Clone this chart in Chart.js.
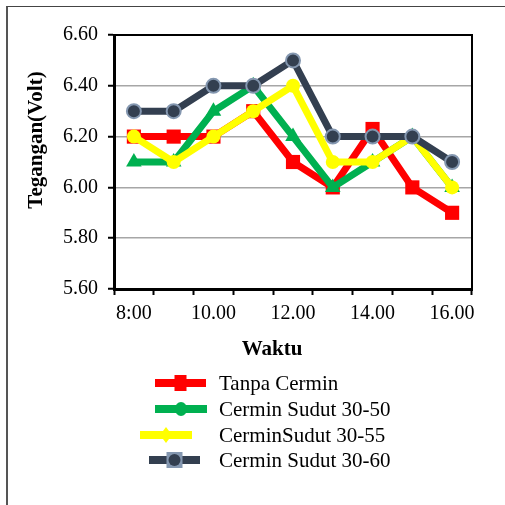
<!DOCTYPE html>
<html>
<head>
<meta charset="utf-8">
<script src="https://cdn.jsdelivr.net/npm/chart.js@4.4.1/dist/chart.umd.min.js"></script>
<style>
  html, body { margin: 0; padding: 0; background: #fff; }
  #wrap { position: relative; width: 505px; height: 505px; overflow: hidden; }
  #frame { position: absolute; left: 6px; top: 6px; width: 520px; height: 520px;
           border-left: 2px solid #555; border-top: 1px solid #444; }
  canvas { position: absolute; left: 0; top: 0; }
</style>
</head>
<body>
<div id="wrap">
  <div id="frame"></div>
  <canvas id="voltChart" width="505" height="505"></canvas>
</div>
<script>
const hours = ['8:00', '9.00', '10.00', '11.00', '12.00', '13.00', '14.00', '15.00', '16.00'];
const tanpaCermin = [6.20, 6.20, 6.20, 6.30, 6.10, 6.00, 6.23, 6.00, 5.90];
const sudut3050 = [6.10, 6.10, 6.30, 6.40, 6.20, 6.00, 6.10, 6.20, 6.00];
const sudut3055 = [6.20, 6.10, 6.20, 6.30, 6.40, 6.10, 6.10, 6.20, 6.00];
const sudut3060 = [6.30, 6.30, 6.40, 6.40, 6.50, 6.20, 6.20, 6.20, 6.10];
const seriesNames = ['Tanpa Cermin', 'Cermin Sudut 30-50', 'CerminSudut 30-55', 'Cermin Sudut 30-60'];
const yTitle = 'Tegangan(Volt)';
const xTitle = 'Waktu';
const yMin = 5.6, yMax = 6.6, yStep = 0.2;

const RED = '#FF0000', GREEN = '#00B050', YELLOW = '#FFFF00', NAVY = '#333F50', SLATE = '#8497B0';
const SERIF = "'Liberation Serif', 'Times New Roman', serif";

// little marker painter used for the hand drawn legend
function marker(ctx, kind, x, y) {
    ctx.save();
    if (kind === 'square') {
        ctx.fillStyle = RED;
        ctx.fillRect(x - 6, y - 8, 12, 16);
    } else if (kind === 'dot') {
        ctx.fillStyle = GREEN;
        ctx.beginPath();
        ctx.ellipse(x, y, 6, 7, 0, 0, Math.PI * 2);
        ctx.fill();
    } else if (kind === 'diamond') {
        ctx.fillStyle = YELLOW;
        ctx.beginPath();
        ctx.moveTo(x, y - 8); ctx.lineTo(x + 6, y); ctx.lineTo(x, y + 8); ctx.lineTo(x - 6, y);
        ctx.closePath();
        ctx.fill();
    } else {
        ctx.fillStyle = SLATE;
        ctx.fillRect(x - 8, y - 8, 16, 16);
        ctx.fillStyle = NAVY;
        ctx.beginPath();
        ctx.arc(x, y, 6, 0, Math.PI * 2);
        ctx.fill();
    }
    ctx.restore();
}

const extras = {
    id: 'extras',
    beforeDatasetsDraw(chart) {
        const {ctx, chartArea: a} = chart;
        ctx.save();
        ctx.strokeStyle = '#000';
        ctx.lineWidth = 2;
        ctx.beginPath();
        ctx.moveTo(a.left, a.top);
        ctx.lineTo(a.right, a.top);
        ctx.lineTo(a.right, a.bottom);
        ctx.stroke();
        ctx.restore();
    },
    afterDraw(chart) {
        const ctx = chart.ctx;
        ctx.save();
        ctx.fillStyle = '#000';
        ctx.font = 'bold 21px ' + SERIF;
        ctx.textAlign = 'center';
        ctx.textBaseline = 'middle';
        ctx.fillText(xTitle, 272, 350);
        ctx.translate(37, 140);
        ctx.rotate(-Math.PI / 2);
        ctx.fillText(yTitle, 0, 0);
        ctx.restore();

        // legend rows
        const rows = [
            {y: 383, x1: 155, x2: 206, color: RED, kind: 'square'},
            {y: 409, x1: 155, x2: 207, color: GREEN, kind: 'dot'},
            {y: 435, x1: 140, x2: 192, color: YELLOW, kind: 'diamond'},
            {y: 460, x1: 149, x2: 200, color: NAVY, kind: 'ring'}
        ];
        ctx.save();
        ctx.font = '21px ' + SERIF;
        ctx.textBaseline = 'middle';
        rows.forEach((r, i) => {
            ctx.strokeStyle = r.color;
            ctx.lineWidth = 8;
            ctx.beginPath();
            ctx.moveTo(r.x1, r.y);
            ctx.lineTo(r.x2, r.y);
            ctx.stroke();
            marker(ctx, r.kind, (r.x1 + r.x2) / 2, r.y);
            ctx.fillStyle = '#000';
            ctx.fillText(seriesNames[i], 219, r.y + 1);
        });
        ctx.restore();
    }
};

function lineSet(label, data, color, style, radius, order, border) {
    return {
        label: label,
        data: data,
        borderColor: color,
        backgroundColor: color,
        borderWidth: 7,
        pointStyle: style,
        pointRadius: radius,
        pointBackgroundColor: color,
        pointBorderColor: border || color,
        pointBorderWidth: border ? 2 : 0,
        tension: 0,
        order: order
    };
}

const ctx = document.getElementById('voltChart').getContext('2d');
new Chart(ctx, {
    type: 'line',
    data: {
        labels: hours,
        datasets: [
            lineSet(seriesNames[0], tanpaCermin, RED, 'rect', 10, 4),
            lineSet(seriesNames[1], sudut3050, GREEN, 'triangle', 9, 3),
            lineSet(seriesNames[2], sudut3055, YELLOW, 'circle', 7, 2),
            lineSet(seriesNames[3], sudut3060, NAVY, 'circle', 7, 1, SLATE)
        ]
    },
    plugins: [extras],
    options: {
        responsive: false,
        animation: false,
        events: [],
        layout: {padding: {left: 0, top: 35, right: 33, bottom: 0}},
        plugins: {
            legend: {display: false},
            title: {display: false},
            tooltip: {enabled: false}
        },
        scales: {
            x: {
                offset: true,
                afterFit: scale => { scale.height = 216; },
                grid: {
                    offset: true,
                    drawOnChartArea: false,
                    drawTicks: true,
                    tickLength: 6,
                    tickColor: '#000',
                    tickWidth: 2
                },
                border: {display: true, color: '#000', width: 3},
                ticks: {
                    autoSkip: false,
                    maxRotation: 0,
                    minRotation: 0,
                    padding: 7,
                    color: '#000',
                    font: {family: SERIF, size: 20},
                    callback: (v, i) => (i % 2 === 0 ? hours[i] : '')
                }
            },
            y: {
                min: yMin,
                max: yMax,
                afterFit: scale => { scale.width = 114; },
                grid: {
                    color: '#A6A6A6',
                    lineWidth: 1.5,
                    tickLength: 6,
                    tickColor: '#000',
                    tickWidth: 2
                },
                border: {display: true, color: '#000', width: 3},
                ticks: {
                    stepSize: yStep,
                    padding: 10,
                    color: '#000',
                    font: {family: SERIF, size: 20},
                    callback: v => v.toFixed(2)
                }
            }
        }
    }
});
</script>
</body>
</html>
